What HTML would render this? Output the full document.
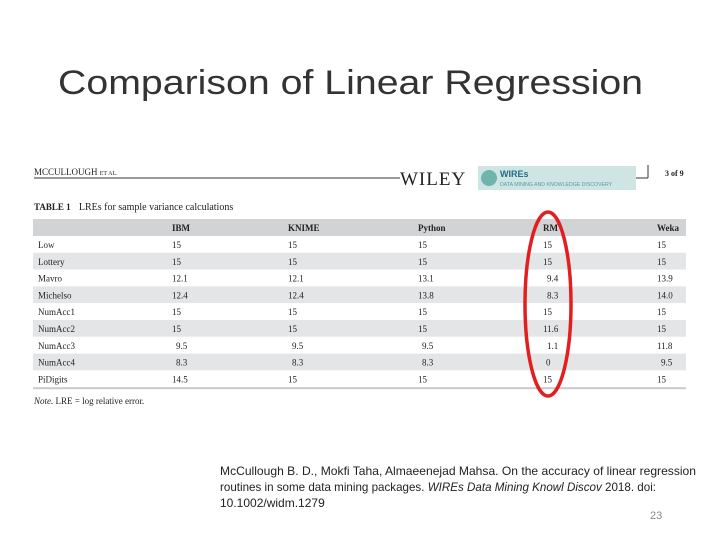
<!DOCTYPE html>
<html><head><meta charset="utf-8"><style>
html,body{margin:0;padding:0;background:#fff}
svg{display:block}
</style></head><body>
<svg id="s" width="720" height="540" viewBox="0 0 720 540" xmlns="http://www.w3.org/2000/svg">
<text x="58" y="94" font-family="Liberation Sans, sans-serif" font-size="34" fill="#333" textLength="585" lengthAdjust="spacingAndGlyphs">Comparison of  Linear Regression</text>
<g font-family="Liberation Serif, serif">
<text x="34" y="175" font-size="9" fill="#222">MCCULLOUGH <tspan font-size="6">ET AL.</tspan></text>
<line x1="34" y1="178" x2="400" y2="178" stroke="#333" stroke-width="1"/>
<text x="400" y="185" font-size="19" fill="#222" letter-spacing="1">WILEY</text>
<rect x="478" y="166" width="158" height="24" fill="#cfe5e3"/>
<circle cx="489" cy="178" r="8" fill="#6fb5ae"/>
<text x="500" y="177" font-family="Liberation Sans, sans-serif" font-size="9" font-weight="bold" fill="#1f6f8a">WIREs</text>
<text x="500" y="186" font-family="Liberation Sans, sans-serif" font-size="5.2" fill="#5a9aa6">DATA MINING AND KNOWLEDGE DISCOVERY</text>
<line x1="636" y1="178" x2="648" y2="178" stroke="#333"/>
<line x1="648" y1="165" x2="648" y2="178" stroke="#333"/>
<text x="665" y="176" font-size="8" font-weight="bold" fill="#222">3 of 9</text>
<text x="34" y="210" font-size="9" font-weight="bold" fill="#222">TABLE 1 <tspan font-weight="normal" dx="6" font-size="10">LREs for sample variance calculations</tspan></text>
</g>
<g id="tbl"></g>
<text x="34" y="404" font-family="Liberation Serif, serif" font-size="9" fill="#222"><tspan font-style="italic">Note.</tspan> LRE = log relative error.</text>
<ellipse cx="548" cy="304" rx="23" ry="92" fill="none" stroke="#e31e1e" stroke-width="3.5"/>
<g font-family="Liberation Sans, sans-serif" font-size="12" fill="#222">
<text x="220" y="475" textLength="476" lengthAdjust="spacingAndGlyphs">McCullough B. D., Mokfi Taha, Almaeenejad Mahsa. On the accuracy of linear regression</text>
<text x="220" y="491" textLength="436" lengthAdjust="spacingAndGlyphs">routines in some data mining packages. <tspan font-style="italic">WIREs Data Mining Knowl Discov</tspan> 2018. doi:</text>
<text x="220" y="507">10.1002/widm.1279</text>
</g>
<text x="650" y="519" font-family="Liberation Sans, sans-serif" font-size="11" fill="#888">23</text>
</svg>
<script>
const columns = ["IBM","KNIME","Python","RM","Weka"];
const rows = ["Low","Lottery","Mavro","Michelso","NumAcc1","NumAcc2","NumAcc3","NumAcc4","PiDigits"];
const ibm = ["15","15","12.1","12.4","15","15","9.5","8.3","14.5"];
const knime = ["15","15","12.1","12.4","15","15","9.5","8.3","15"];
const python = ["15","15","13.1","13.8","15","15","9.5","8.3","15"];
const rm = ["15","15","9.4","8.3","15","11.6","1.1","0","15"];
const weka = ["15","15","13.9","14.0","15","15","11.8","9.5","15"];
const series = [ibm, knime, python, rm, weka];
const NS = "http://www.w3.org/2000/svg";
const g = document.getElementById("tbl");
const X0 = 33, X1 = 686, HY = 219, HH = 17, RH = 16.8;
const colX = [172, 288, 418, 543, 657];
function mk(tag, attrs, txt){ const e = document.createElementNS(NS, tag); for (const k in attrs) e.setAttribute(k, attrs[k]); if (txt !== undefined) e.textContent = txt; g.appendChild(e); return e; }
const hdr = mk("rect", {x:X0, y:HY, width:X1-X0, height:HH, fill:"#d2d3d5"});


columns.forEach((c, i) => {
  const t = mk("text", {x:colX[i], y:HY+12, "font-family":"Liberation Serif, serif", "font-size":"9", "font-weight":"bold", fill:"#222"}, c);
  
  
});
rows.forEach((r, j) => {
  const y = HY + HH + j*RH;
  const bg = mk("rect", {x:X0, y:y, width:X1-X0, height:RH, fill: j%2 ? "#e4e5e7" : "#ffffff"});
  
  
  const lab = mk("text", {x:38, y:y+12, "font-family":"Liberation Serif, serif", "font-size":"9", fill:"#222"}, r);
  
  
  series.forEach((s, i) => {
    const v = s[j];
    const dx = v.length === 3 && v.indexOf(".") === 1 ? 4 : (v === "0" ? 3 : 0);
    const t = mk("text", {x:colX[i]+dx, y:y+12, "font-family":"Liberation Serif, serif", "font-size":"9", fill:"#222"}, v);
    
    
  });
});
const bl = mk("rect", {x:X0, y:HY+HH+rows.length*RH, width:X1-X0, height:2, fill:"#c8c9cb"});


</script>
</body></html>
